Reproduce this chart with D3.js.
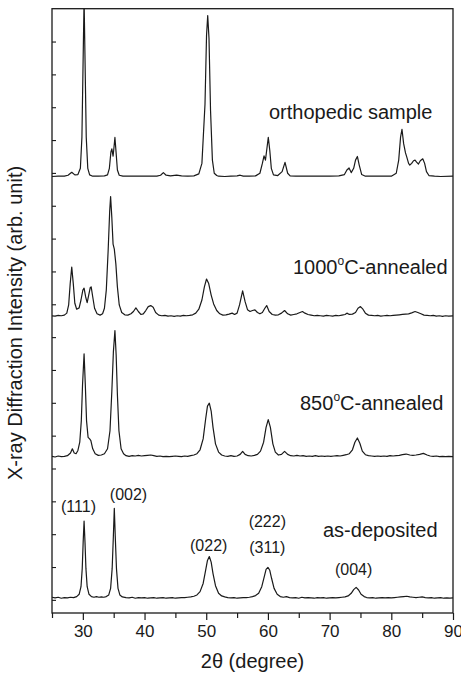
<!DOCTYPE html>
<html>
<head>
<meta charset="utf-8">
<script src="https://cdn.jsdelivr.net/npm/d3@7"></script>
<style>
  html, body { margin: 0; padding: 0; background: #fff; }
  svg { display: block; font-family: "Liberation Sans", Arial, sans-serif; }
</style>
</head>
<body>
<svg id="chart"></svg>
<script>
// ---- data: [2theta, intensity above own baseline] ----
const asDeposited = [
  [25,0.03],[25.5,0.01],[26,0.03],[26.5,0.0],[27,0.02],[27.5,0.01],[28,0.03],[28.5,0.02],[29,0.05],
  [29.4,0.12],[29.7,0.35],[29.9,0.9],[30.05,1.7],[30.2,2.35],[30.35,1.7],[30.5,0.9],[30.7,0.35],[31.0,0.12],
  [31.4,0.05],[31.8,0.03],[32.2,0.05],[32.6,0.03],[33.0,0.04],[33.4,0.03],[33.8,0.05],[34.2,0.1],[34.5,0.3],
  [34.75,0.9],[34.95,1.9],[35.1,2.74],[35.25,1.9],[35.45,0.9],[35.7,0.3],[36.0,0.1],[36.4,0.04],[37,0.02],
  [37.5,0.01],[38,0.03],[38.5,0.0],[39,0.02],[39.5,0.01],[40,0.02],[40.5,0.0],[41,0.01],[41.5,0.02],[42,0.0],
  [42.5,0.01],[43,0.02],[43.5,0.0],[44,0.01],[44.5,0.02],[45,0.0],[45.5,0.01],[46,0.02],[46.5,0.02],[47,0.03],
  [47.5,0.04],[48,0.06],[48.5,0.1],[49,0.2],[49.5,0.45],[49.9,0.85],[50.2,1.15],[50.5,1.27],[50.8,1.1],
  [51.1,0.75],[51.5,0.38],[52,0.15],[52.5,0.07],[53,0.04],[53.5,0.02],[54,0.01],[54.5,0.02],[55,0.0],
  [55.5,0.01],[56,0.02],[56.5,0.02],[57,0.03],[57.5,0.05],[58,0.08],[58.5,0.15],[59,0.35],[59.4,0.65],
  [59.7,0.88],[60.0,0.94],[60.3,0.85],[60.6,0.6],[61.0,0.3],[61.5,0.12],[62,0.05],[62.5,0.03],[63,0.05],
  [63.5,0.02],[64,0.01],[64.5,0.02],[65,0.0],[65.5,0.03],[66,0.01],[66.5,0.02],[67,0.01],[67.5,0.0],[68,0.02],
  [68.5,0.01],[69,0.02],[69.5,0.0],[70,0.01],[70.5,0.02],[71,0.01],[71.5,0.02],[72,0.03],[72.5,0.04],[73,0.07],
  [73.5,0.15],[73.9,0.26],[74.3,0.33],[74.7,0.25],[75.1,0.12],[75.6,0.05],[76,0.02],[76.5,0.01],[77,0.02],
  [77.5,0.0],[78,0.01],[78.5,0.02],[79,0.01],[79.5,0.02],[80,0.01],[80.5,0.02],[81,0.03],[81.5,0.04],[82,0.05],
  [82.5,0.06],[83,0.04],[83.5,0.03],[84,0.02],[84.5,0.03],[85,0.04],[85.5,0.02],[86,0.01],[86.5,0.02],[87,0.0],
  [87.5,0.01],[88,0.02],[88.5,0.0],[89,0.01],[89.5,0.0],[90,0.01]
];

const annealed850 = [
  [25,0.02],[25.5,0.0],[26,0.03],[26.5,0.01],[27,0.02],[27.5,0.04],[28.0,0.12],[28.3,0.25],[28.6,0.12],
  [28.9,0.1],[29.2,0.2],[29.5,0.45],[29.75,1.1],[29.95,2.2],[30.2,3.14],[30.4,2.2],[30.6,1.1],[30.85,0.6],
  [31.1,0.55],[31.3,0.5],[31.6,0.25],[32.0,0.1],[32.5,0.05],[33.0,0.06],[33.5,0.1],[34.0,0.25],[34.4,0.8],
  [34.7,2.0],[34.95,3.2],[35.2,3.85],[35.4,3.1],[35.6,1.9],[35.85,0.8],[36.2,0.25],[36.6,0.1],[37,0.04],
  [37.5,0.02],[38,0.04],[38.5,0.03],[39,0.05],[39.5,0.03],[40,0.04],[40.5,0.05],[41,0.06],[41.5,0.04],[42,0.02],
  [42.5,0.03],[43,0.01],[43.5,0.02],[44,0.01],[44.5,0.02],[45,0.03],[45.5,0.02],[46,0.01],[46.5,0.03],[47,0.02],
  [47.5,0.04],[48,0.06],[48.5,0.1],[49.0,0.22],[49.5,0.55],[49.9,1.15],[50.2,1.55],[50.5,1.64],[50.8,1.4],
  [51.1,0.9],[51.5,0.4],[52,0.15],[52.5,0.06],[53,0.03],[53.5,0.02],[54,0.04],[54.5,0.02],[55,0.03],[55.5,0.08],
  [55.9,0.17],[56.3,0.08],[56.8,0.04],[57.3,0.03],[57.8,0.05],[58.3,0.08],[58.8,0.18],[59.3,0.45],[59.7,0.9],
  [60.05,1.14],[60.4,0.9],[60.8,0.4],[61.2,0.15],[61.7,0.06],[62.2,0.08],[62.7,0.17],[63.2,0.08],[63.7,0.04],
  [64.2,0.03],[64.7,0.05],[65.2,0.03],[65.7,0.04],[66.2,0.02],[66.7,0.03],[67.2,0.02],[67.7,0.04],[68.2,0.02],
  [68.7,0.03],[69.2,0.02],[69.7,0.03],[70.2,0.02],[70.7,0.03],[71.2,0.04],[71.7,0.03],[72.2,0.05],[72.7,0.07],
  [73.2,0.1],[73.7,0.22],[74.1,0.45],[74.5,0.58],[74.9,0.42],[75.3,0.18],[75.8,0.07],[76.3,0.04],[76.8,0.03],
  [77.3,0.02],[77.8,0.03],[78.3,0.02],[78.8,0.03],[79.3,0.02],[79.8,0.04],[80.3,0.03],[80.8,0.04],[81.3,0.05],
  [81.8,0.07],[82.4,0.09],[83,0.06],[83.5,0.05],[84,0.06],[84.6,0.08],[85.2,0.11],[85.8,0.06],[86.3,0.03],
  [86.8,0.02],[87.3,0.03],[87.8,0.01],[88.3,0.02],[88.8,0.01],[89.3,0.02],[90,0.01]
];

const annealed1000 = [
  [25,0.02],[25.5,0.01],[26,0.03],[26.5,0.02],[27,0.04],[27.4,0.1],[27.7,0.35],[27.95,1.0],[28.2,1.5],
  [28.45,1.0],[28.7,0.4],[29.0,0.22],[29.4,0.26],[29.7,0.5],[30.0,0.8],[30.2,0.86],[30.45,0.6],[30.7,0.42],
  [30.95,0.65],[31.2,0.88],[31.35,0.9],[31.6,0.6],[31.9,0.25],[32.3,0.08],[32.8,0.04],[33.2,0.08],[33.5,0.25],
  [33.8,0.8],[34.1,2.0],[34.35,3.2],[34.5,3.65],[34.7,3.0],[34.9,2.2],[35.1,2.05],[35.35,1.6],[35.6,0.9],
  [35.9,0.35],[36.3,0.12],[36.8,0.05],[37.3,0.04],[37.8,0.08],[38.2,0.15],[38.6,0.26],[39.0,0.15],[39.4,0.06],
  [39.8,0.08],[40.2,0.18],[40.6,0.3],[41.0,0.33],[41.4,0.28],[41.8,0.12],[42.3,0.04],[42.8,0.02],[43.3,0.03],
  [43.8,0.01],[44.3,0.02],[44.8,0.0],[45.3,0.02],[45.8,0.01],[46.3,0.03],[46.8,0.02],[47.3,0.03],[47.8,0.05],
  [48.3,0.1],[48.8,0.22],[49.3,0.5],[49.7,0.9],[50.05,1.14],[50.4,1.0],[50.8,0.65],[51.2,0.38],[51.7,0.18],
  [52.2,0.08],[52.7,0.04],[53.2,0.05],[53.7,0.07],[54.2,0.1],[54.6,0.06],[55.0,0.1],[55.4,0.35],[55.9,0.78],
  [56.3,0.45],[56.7,0.2],[57.1,0.15],[57.5,0.18],[57.9,0.2],[58.3,0.12],[58.7,0.08],[59.1,0.12],[59.5,0.25],
  [59.8,0.33],[60.2,0.15],[60.7,0.06],[61.2,0.04],[61.7,0.05],[62.2,0.1],[62.7,0.18],[63.2,0.08],[63.7,0.04],
  [64.2,0.06],[64.7,0.08],[65.2,0.12],[65.6,0.15],[66.0,0.1],[66.5,0.06],[67,0.04],[67.5,0.02],[68,0.03],
  [68.5,0.02],[69,0.01],[69.5,0.03],[70,0.02],[70.5,0.01],[71,0.03],[71.5,0.02],[72,0.04],[72.5,0.06],
  [72.8,0.1],[73.2,0.06],[73.7,0.07],[74.2,0.12],[74.6,0.25],[75.0,0.3],[75.4,0.22],[75.8,0.1],[76.3,0.04],
  [76.8,0.03],[77.3,0.02],[77.8,0.03],[78.3,0.01],[78.8,0.02],[79.3,0.03],[79.8,0.02],[80.3,0.03],[80.8,0.04],
  [81.3,0.05],[81.8,0.06],[82.3,0.07],[82.8,0.08],[83.3,0.11],[83.85,0.15],[84.3,0.12],[84.8,0.08],[85.3,0.04],
  [85.8,0.03],[86.3,0.02],[86.8,0.03],[87.3,0.01],[87.8,0.02],[88.3,0.0],[88.8,0.02],[89.3,0.01],[90,0.02]
];

const orthopedic = [
  [25,0.0],[26,0.01],[27,0.01],[27.6,0.04],[28.2,0.13],[28.7,0.05],[29.2,0.06],[29.6,0.25],[29.85,1.2],
  [30.0,3.0],[30.2,5.4],[30.4,3.0],[30.55,1.2],[30.8,0.25],[31.1,0.05],[31.6,0.01],[32.5,0.01],[33.5,0.02],
  [34.0,0.05],[34.3,0.25],[34.55,0.75],[34.7,0.84],[34.9,0.62],[35.0,0.8],[35.2,1.19],[35.4,0.7],[35.6,0.2],
  [35.9,0.04],[36.5,0.01],[38,0.01],[40,0.01],[42,0.01],[42.6,0.04],[43.05,0.12],[43.5,0.04],[44.2,0.02],
  [45.2,0.04],[46,0.02],[47,0.01],[48,0.02],[48.8,0.08],[49.3,0.4],[49.8,2.2],[50.05,4.3],[50.24,4.9],
  [50.45,4.2],[50.7,2.0],[51.0,0.5],[51.3,0.1],[51.7,0.03],[52,0.01],[53,0.0],[54,0.01],[55,0.02],[55.5,0.04],
  [56,0.01],[57,0.01],[58,0.02],[58.7,0.1],[59.1,0.4],[59.37,0.63],[59.6,0.5],[59.8,0.8],[60.06,1.19],
  [60.3,0.8],[60.55,0.25],[60.9,0.05],[61.6,0.03],[62.3,0.15],[62.77,0.43],[63.2,0.1],[63.6,0.02],[64.5,0.01],
  [66,0.01],[68,0.01],[70,0.01],[71.5,0.02],[72.4,0.06],[72.8,0.2],[73.15,0.26],[73.5,0.12],[73.9,0.25],
  [74.2,0.5],[74.5,0.61],[74.8,0.35],[75.2,0.06],[75.8,0.01],[77,0.01],[78.5,0.01],[80,0.01],[80.8,0.1],
  [81.2,0.5],[81.5,1.2],[81.73,1.44],[82.0,1.0],[82.3,0.72],[82.5,0.6],[82.8,0.4],[83.0,0.35],[83.3,0.4],
  [83.6,0.48],[83.85,0.5],[84.1,0.44],[84.4,0.38],[84.7,0.48],[85.1,0.54],[85.4,0.4],[85.7,0.15],[86.1,0.03],
  [87,0.01],[88,0.0],[90,0.01]
];

const traces  = [asDeposited, annealed850, annealed1000, orthopedic];
const offsets = [0.05, 4.35, 8.63, 12.89];

const sampleLabels = ["as-deposited", "850", "1000", "orthopedic sample"];
const peakLabels = ["(111)", "(002)", "(022)", "(222)", "(311)", "(004)"];

const xMajorTicks = [30, 40, 50, 60, 70, 80, 90];
const xMinorTicks = [25, 35, 45, 55, 65, 75, 85];
const yTicks = [0, 1, 2, 3, 4, 5, 6, 7, 8, 9, 10, 11, 12, 13, 14, 15, 16, 17];

// =============================================================================
// CHART
// =============================================================================
const W = 461, H = 677;
const margin = { top: 8.7, right: 8, bottom: 64, left: 52 };
const width = W - margin.left - margin.right;
const height = H - margin.top - margin.bottom;

const svg = d3.select('#chart').attr('width', W).attr('height', H);
const g = svg.append('g').attr('transform', `translate(${margin.left},${margin.top})`);

const x = d3.scaleLinear().domain([25, 90]).range([0, width]);
const y = d3.scaleLinear().domain([-0.4, 18]).range([height, 0]);

const ink = '#1a1a1a';

svg.append('defs').append('clipPath').attr('id', 'plot-clip')
    .append('rect').attr('width', width).attr('height', height);

// Traces
const line = d3.line()
    .x(d => x(d[0]))
    .y(d => y(d[1]));

const traceG = g.append('g').attr('clip-path', 'url(#plot-clip)');
traces.forEach((t, i) => {
    traceG.append('path')
        .datum(t.map(d => [d[0], d[1] + offsets[i]]))
        .attr('fill', 'none')
        .attr('stroke', ink)
        .attr('stroke-width', 1.2)
        .attr('stroke-linejoin', 'round')
        .attr('d', line);
});

// Bottom axis — major + minor ticks, outward
g.append('g')
    .attr('transform', `translate(0,${height})`)
    .call(d3.axisBottom(x).tickValues(xMinorTicks).tickSize(5).tickFormat(''))
    .call(ax => ax.select('.domain').remove())
    .call(ax => ax.selectAll('.tick line').attr('stroke', ink).attr('stroke-width', 1.2));

g.append('g')
    .attr('transform', `translate(0,${height})`)
    .call(d3.axisBottom(x).tickValues(xMajorTicks).tickSize(7).tickPadding(5).tickFormat(d3.format('d')))
    .call(ax => ax.select('.domain').remove())
    .call(ax => ax.selectAll('.tick line').attr('stroke', ink).attr('stroke-width', 1.2))
    .call(ax => ax.selectAll('.tick text')
        .attr('fill', ink)
        .attr('font-size', '17px')
        .attr('font-family', '"Liberation Sans", Arial, sans-serif'));

// Left axis — inward ticks, no labels
g.append('g')
    .call(d3.axisLeft(y).tickValues(yTicks).tickSize(-4).tickFormat(''))
    .call(ax => ax.select('.domain').remove())
    .call(ax => ax.selectAll('.tick line').attr('stroke', ink).attr('stroke-width', 1.1));

// Frame
g.append('rect')
    .attr('width', width).attr('height', height)
    .attr('fill', 'none')
    .attr('stroke', ink)
    .attr('stroke-width', 1.3);

// Axis titles
const xt = svg.append('text')
    .attr('x', margin.left + width / 2)
    .attr('y', 668)
    .attr('text-anchor', 'middle')
    .attr('font-size', '20px')
    .attr('fill', ink);
xt.append('tspan').text('2');
xt.append('tspan').text('\u03b8 (degree)');

svg.append('text')
    .attr('transform', 'translate(21.5,323) rotate(-90)')
    .attr('text-anchor', 'middle')
    .attr('font-size', '20px')
    .attr('fill', ink)
    .text('X-ray Diffraction Intensity (arb. unit)');

// Sample labels
function degLabel(sel, num) {
    sel.append('tspan').text(num);
    sel.append('tspan').attr('font-size', '12px').attr('dy', -9).text('o');
    sel.append('tspan').attr('dy', 9).text('C-annealed');
}

g.append('text')
    .attr('x', x(25) + 217).attr('y', 119 - margin.top)
    .attr('font-size', '20px').attr('fill', ink)
    .text(sampleLabels[3]);

g.append('text')
    .attr('x', 293 - margin.left).attr('y', 274 - margin.top)
    .attr('font-size', '20px').attr('fill', ink)
    .call(degLabel, sampleLabels[2]);

g.append('text')
    .attr('x', 300 - margin.left).attr('y', 410 - margin.top)
    .attr('font-size', '20px').attr('fill', ink)
    .call(degLabel, sampleLabels[1]);

g.append('text')
    .attr('x', 323 - margin.left).attr('y', 537 - margin.top)
    .attr('font-size', '20px').attr('fill', ink)
    .text(sampleLabels[0]);

// Peak (hkl) labels over as-deposited pattern
const peakPos = [[29.3, 512], [37.4, 500], [50.4, 551], [59.9, 527], [59.9, 553], [73.9, 575]];
g.selectAll('.hkl')
    .data(peakLabels)
    .enter()
    .append('text')
    .attr('class', 'hkl')
    .attr('x', (d, i) => x(peakPos[i][0]))
    .attr('y', (d, i) => peakPos[i][1] - margin.top)
    .attr('text-anchor', 'middle')
    .attr('font-size', '16px')
    .attr('fill', ink)
    .text(d => d);
</script>
</body>
</html>
